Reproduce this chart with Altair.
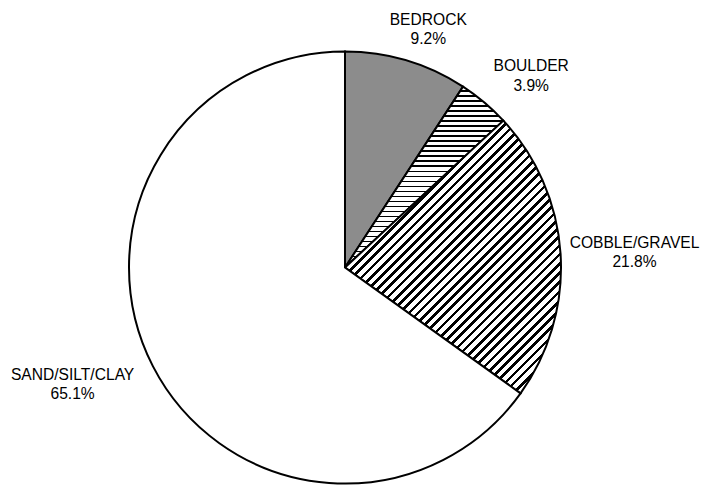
import altair as alt
import pandas as pd

# ---- data ----
categories = ["BEDROCK", "BOULDER", "COBBLE/GRAVEL", "SAND/SILT/CLAY"]
percent = [9.2, 3.9, 21.8, 65.1]
slice_order = [1, 2, 3, 4]

df = pd.DataFrame({"cat": categories, "pct": percent, "idx": slice_order})

# ---- styling ----
CX, CY, R = 337, 259.5, 216
LABEL_R = 250
FONT = "Liberation Sans, Arial, Helvetica, sans-serif"
FONT_SIZE = 15.6
# label nudges (dx, dy) relative to the mid-angle anchor
LABEL_SHIFT = {
    "BEDROCK": (12, -3),
    "BOULDER": (25, -5),
    "COBBLE/GRAVEL": (40, -4),
    "SAND/SILT/CLAY": (-50, -2),
}


def stripes(n, dark_frac, x2, y2, dark="#000000", light="#ffffff"):
    stops = []
    for i in range(n):
        a = round(i / n, 5)
        b = round((i + 1 - dark_frac) / n, 5)
        c = round((i + 1) / n, 5)
        stops += [
            {"offset": a, "color": light},
            {"offset": b, "color": light},
            {"offset": b, "color": dark},
            {"offset": c, "color": dark},
        ]
    return {"gradient": "linear", "x1": 0, "y1": 0, "x2": x2, "y2": y2, "stops": stops}


g_boulder = stripes(36, 0.3, 0, 1)
g_cobble = stripes(53, 0.4, 0.872, 1.101)

theta_scale = alt.Scale(domain=[0, 100])

arc = alt.Chart().mark_arc(
    radius=R, stroke="black", strokeWidth=2, strokeJoin="miter"
).encode(
    theta=alt.Theta("pct:Q", stack=True, scale=theta_scale),
    order=alt.Order("idx:Q", sort="ascending"),
    x=alt.value(CX),
    y=alt.value(CY),
    fill=alt.FillValue(
        "white",
        condition=[
            {"test": "datum.cat === 'BEDROCK'", "value": "#8c8c8c"},
            {"test": "datum.cat === 'BOULDER'", "value": g_boulder},
            {"test": "datum.cat === 'COBBLE/GRAVEL'", "value": g_cobble},
        ],
    ),
)

base_text = alt.Chart().transform_window(
    cum="sum(pct)", sort=[alt.SortField("idx", order="ascending")]
).transform_calculate(
    mid="datum.cum - datum.pct / 2",
    label="datum.cat + '\\n' + format(datum.pct, '.1f') + '%'",
)

texts = []
for cat in categories:
    dx, dy = LABEL_SHIFT[cat]
    t = base_text.transform_filter(
        alt.datum.cat == cat
    ).mark_text(
        font=FONT, fontSize=FONT_SIZE, color="black", align="center",
        baseline="alphabetic", lineBreak="\n", lineHeight=19.5, dx=dx, dy=dy,
        radius=LABEL_R,
    ).encode(
        theta=alt.Theta("mid:Q", stack=False, scale=theta_scale),
        x=alt.value(CX),
        y=alt.value(CY),
        text="label:N",
    )
    texts.append(t)

chart = alt.layer(arc, *texts, data=df).properties(
    width=694, height=478, padding=0, autosize="none", background="white"
).configure_view(stroke=None)

chart.save("out.html", embed_options={"renderer": "svg", "actions": False})
